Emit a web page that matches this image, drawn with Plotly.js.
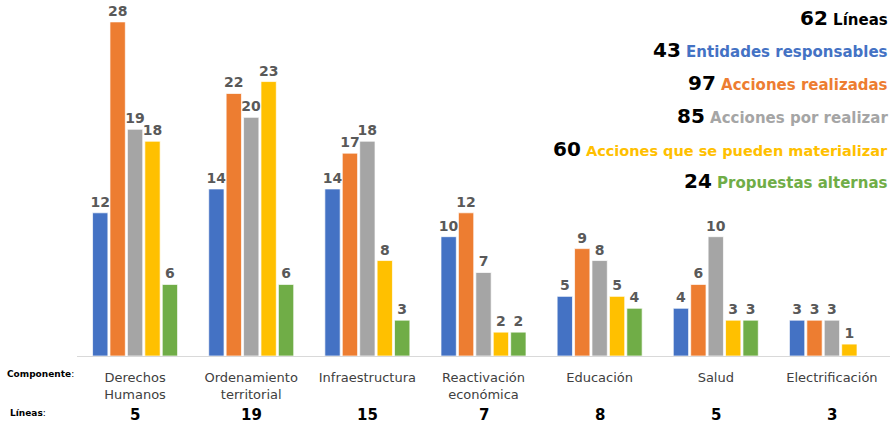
<!DOCTYPE html>
<html>
<head>
<meta charset="utf-8">
<script src="https://cdn.plot.ly/plotly-3.0.1.min.js"></script>
<style>html,body{margin:0;padding:0;background:#fff;}#chart{width:893px;height:426px;}</style>
</head>
<body>
<div id="chart"></div>
<script>
const categories = ["Derechos<br>Humanos", "Ordenamiento<br>territorial", "Infraestructura", "Reactivación<br>económica", "Educación", "Salud", "Electrificación"];
const lineas = [5, 19, 15, 7, 8, 5, 3];
const entidades = [12, 14, 14, 10, 5, 4, 3];
const realizadas = [28, 22, 17, 12, 9, 6, 3];
const porRealizar = [19, 20, 18, 7, 8, 10, 3];
const materializar = [18, 23, 8, 2, 5, 3, 1];
const alternas = [6, 6, 3, 2, 4, 3, null];
const seriesNames = ["Entidades responsables", "Acciones realizadas", "Acciones por realizar", "Acciones que se pueden materializar", "Propuestas alternas"];
const seriesData = [entidades, realizadas, porRealizar, materializar, alternas];
const colors = ["#4472C4", "#ED7D31", "#A5A5A5", "#FFC000", "#70AD47"];
const totalLabel = "Líneas";
const totals = [62, 43, 97, 85, 60, 24];
const totalColors = ["#000000", "#4472C4", "#ED7D31", "#A5A5A5", "#FFC000", "#70AD47"];

const FONT = "DejaVu Sans, Verdana, sans-serif";

const traces = seriesData.map((vals, i) => ({
  type: "bar",
  name: seriesNames[i],
  x: categories,
  y: vals,
  marker: {color: colors[i], line: {color: "rgba(255,255,255,0.7)", width: 1}},
  text: vals.map(v => v == null ? "" : String(v)),
  textposition: "outside",
  constraintext: "none",
  textfont: {family: FONT, size: 14, color: "#595959", weight: "bold"},
  cliponaxis: false,
  hoverinfo: "x+y"
}));

const annotations = [];
lineas.forEach((v, i) => {
  annotations.push({xref: "x", yref: "paper", x: categories[i], y: -0.168, yanchor: "middle",
    borderpad: 0,
    text: "<b>" + v + "</b>", showarrow: false, font: {family: FONT, size: 15, color: "#000"}});
});
annotations.push({xref: "paper", yref: "paper", x: -0.045, y: -0.05, xanchor: "center", yanchor: "middle",
  text: "<b>Componente</b>:", showarrow: false, font: {family: FONT, size: 9, color: "#000"}});
annotations.push({xref: "paper", yref: "paper", x: -0.06, y: -0.163, xanchor: "center", yanchor: "middle",
  text: "<b>Líneas</b>:", showarrow: false, font: {family: FONT, size: 9, color: "#000"}});

const legendLabels = [totalLabel].concat(seriesNames);
const legendY = [18, 50, 83, 116, 149, 181];
legendLabels.forEach((lab, i) => {
  annotations.push({xref: "paper", yref: "paper", x: 1.0, xanchor: "right",
    y: 1 - (legendY[i] - 4) / 352, yanchor: "middle", showarrow: false,
    text: '<b><span style="font-size:20px;color:#000">' + totals[i] + '</span> <span style="color:' + totalColors[i] + '">' + lab + '</span></b>',
    font: {family: FONT, size: i === 4 ? 14.5 : 15, color: totalColors[i]}});
});

const layout = {
  width: 893, height: 426,
  margin: {l: 77, r: 3, t: 4, b: 70},
  paper_bgcolor: "#fff", plot_bgcolor: "#fff",
  barmode: "group", bargap: 0.25, bargroupgap: 0.12,
  showlegend: false,
  font: {family: FONT, color: "#404040"},
  xaxis: {showline: true, linecolor: "#D9D9D9", linewidth: 1, ticks: "", showgrid: false,
    ticklabelstandoff: 9,
    tickfont: {family: FONT, size: 13, color: "#404040"}, fixedrange: true},
  yaxis: {range: [0, 29.5], visible: false, showgrid: false, zeroline: false, fixedrange: true},
  annotations: annotations
};

Plotly.newPlot("chart", traces, layout, {displayModeBar: false, staticPlot: true});
</script>
</body>
</html>
